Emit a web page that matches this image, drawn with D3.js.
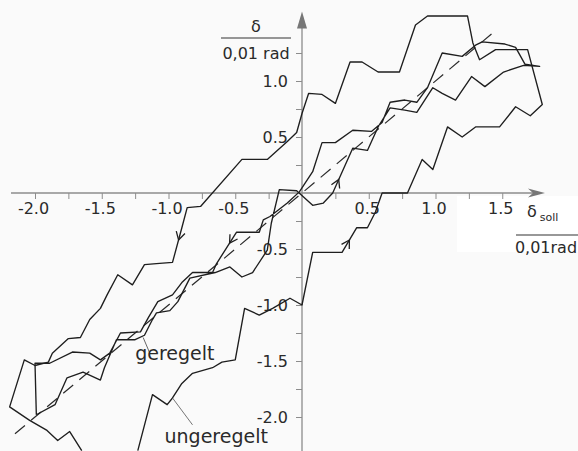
<!DOCTYPE html>
<html>
<head>
<meta charset="utf-8">
<script src="https://cdn.jsdelivr.net/npm/d3@7"></script>
<style>
  body { margin: 0; background: #fafafa; }
  svg { display: block; }
  text { font-family: "DejaVu Sans", sans-serif; fill: #2a2a2a; }
</style>
</head>
<body>
<div id="chart"></div>
<script>
var width = 578, height = 451;

// ungeregelt loop, in travel order: right branch upwards, then left branch downwards
var ungeregeltX = [-1.23, -1.12, -1.01, -0.97, -0.90, -0.82, -0.67, -0.60, -0.50, -0.43, -0.32, -0.22, -0.09, 0.00, 0.08, 0.30, 0.41, 0.49, 0.55, 0.60, 0.79, 0.90, 0.98, 1.09, 1.20, 1.30, 1.48, 1.60, 1.71, 1.80,
                   1.69, 1.45, 1.33, 1.28, 1.24, 0.94, 0.85, 0.73, 0.57, 0.45, 0.36, 0.25, 0.15, 0.05, 0.00, -0.04, -0.11, -0.26, -0.45, -0.76, -0.86, -0.90, -0.97, -1.09, -1.18, -1.27, -1.38, -1.46, -1.51, -1.59, -1.66, -1.75, -1.87, -1.90, -2.00, -2.08, -2.19, -2.04, -1.91, -1.83, -1.74, -1.65];
var ungeregeltY = [-2.30, -1.80, -1.89, -1.83, -1.70, -1.61, -1.56, -1.51, -1.49, -1.03, -1.09, -1.03, -0.94, -1.00, -0.53, -0.53, -0.31, -0.31, -0.17, 0.00, 0.00, 0.30, 0.21, 0.59, 0.50, 0.59, 0.59, 0.77, 0.69, 0.79,
                   1.28, 1.28, 1.19, 1.34, 1.58, 1.58, 1.50, 1.08, 1.08, 1.17, 1.17, 0.80, 0.88, 0.89, 0.71, 0.54, 0.46, 0.30, 0.30, -0.12, -0.13, -0.31, -0.62, -0.63, -0.64, -0.82, -0.73, -0.91, -1.03, -1.13, -1.29, -1.30, -1.43, -1.51, -1.54, -1.49, -1.91, -2.03, -2.12, -2.21, -2.13, -2.30];

// geregelt loop, in travel order: lower branch upwards, then upper branch downwards
var geregeltX = [-1.99, -1.85, -1.76, -1.64, -1.51, -1.48, -1.39, -1.25, -1.18, -1.12, -1.09, -0.99, -0.93, -0.84, -0.65, -0.54, -0.45, -0.37, -0.26, -0.23, -0.17, -0.04, 0.08, 0.16, 0.23, 0.38, 0.49, 0.57, 0.66, 0.77, 0.86, 0.98, 1.05, 1.15, 1.27, 1.37, 1.51, 1.66, 1.78,
                 1.67, 1.60, 1.52, 1.35, 1.30, 1.20, 1.05, 0.94, 0.86, 0.77, 0.66, 0.60, 0.52, 0.38, 0.25, 0.15, 0.08, -0.02, -0.11, -0.24, -0.29, -0.32, -0.49, -0.64, -0.67, -0.82, -0.90, -0.97, -1.08, -1.15, -1.21, -1.36, -1.44, -1.51, -1.59, -1.72, -1.89, -2.00, -1.99];
var geregeltY = [-1.98, -1.89, -1.65, -1.60, -1.67, -1.56, -1.31, -1.31, -1.27, -1.13, -1.07, -1.05, -0.97, -0.76, -0.71, -0.66, -0.75, -0.71, -0.51, -0.27, 0.03, 0.02, -0.11, -0.09, 0.00, 0.40, 0.38, 0.59, 0.76, 0.74, 0.72, 0.94, 0.89, 0.83, 1.04, 0.95, 1.08, 1.14, 1.13,
                 1.15, 1.30, 1.33, 1.35, 1.32, 1.22, 1.25, 0.94, 0.81, 0.83, 0.81, 0.63, 0.55, 0.56, 0.45, 0.45, 0.19, 0.01, -0.09, -0.21, -0.24, -0.35, -0.35, -0.63, -0.71, -0.71, -0.80, -0.91, -0.97, -1.11, -1.24, -1.25, -1.43, -1.49, -1.43, -1.42, -1.52, -1.52, -1.98];

// ideal characteristic delta = delta_soll (dashed)
var idealRange = [-2.15, 1.42];

// direction arrows: [segment start index, position along segment]
var ungeregeltArrows = [[15, 0.5], [51, 0.35]];
var geregeltArrows = [[24, 0.3], [61, 0.35]];

var xTicks = [-2.0, -1.75, -1.5, -1.25, -1.0, -0.75, -0.5, -0.25, 0.25, 0.5, 0.75, 1.0, 1.25, 1.5];
var xLabelValues = [-2.0, -1.5, -1.0, -0.5, 0.5, 1.0, 1.5];
var xLabels = ["-2.0", "-1.5", "-1.0", "-0.5", "0.5", "1.0", "1.5"];
var yTicks = [-2.0, -1.75, -1.5, -1.25, -1.0, -0.75, -0.5, -0.25, 0.25, 0.5, 0.75, 1.0, 1.25];
var yLabelValues = [-2.0, -1.5, -1.0, -0.5, 0.5, 1.0];
var yLabels = ["-2.0", "-1.5", "-1.0", "-0.5", "0.5", "1.0"];

var xAxisExtent = [-2.18, 1.82];
var yAxisExtent = [-2.35, 1.62];

// scales: origin in the middle of the sheet
var x = d3.scaleLinear().domain([0, 1]).range([302, 435.5]);
var y = d3.scaleLinear().domain([0, 1]).range([193, 81]);

var svg = d3.select("#chart").append("svg")
    .attr("width", width)
    .attr("height", height);

// lighter patch behind the x label (scan artefact)
svg.append("rect")
    .attr("x", 457).attr("y", 196)
    .attr("width", width - 457).attr("height", 56)
    .style("fill", "#ffffff");

var axisColor = "#8c8c8c";

// axis lines
svg.append("line")
    .attr("x1", x(xAxisExtent[0])).attr("x2", x(xAxisExtent[1]) - 10)
    .attr("y1", y(0)).attr("y2", y(0))
    .style("stroke", axisColor).style("stroke-width", 1.3);
svg.append("line")
    .attr("x1", x(0)).attr("x2", x(0))
    .attr("y1", y(yAxisExtent[0])).attr("y2", y(yAxisExtent[1]) + 10)
    .style("stroke", axisColor).style("stroke-width", 1.3);

// arrow heads on the axes
var xt = x(xAxisExtent[1]), yt = y(yAxisExtent[1]);
svg.append("path")
    .attr("d", "M" + xt + "," + y(0) + " L" + (xt - 17) + "," + (y(0) - 4.5) + " L" + (xt - 12) + "," + y(0) + " L" + (xt - 17) + "," + (y(0) + 4.5) + " Z")
    .style("fill", "#777");
svg.append("path")
    .attr("d", "M" + x(0) + "," + yt + " L" + (x(0) - 5) + "," + (yt + 17) + " L" + (x(0) + 5) + "," + (yt + 17) + " Z")
    .style("fill", "#777");

// tick marks and labels
var xAxis = d3.axisBottom(x)
    .tickValues(xTicks)
    .tickSize(6)
    .tickPadding(4)
    .tickFormat(function (d) {
        var i = xLabelValues.indexOf(d);
        return i < 0 ? "" : xLabels[i];
    });
var gx = svg.append("g")
    .attr("transform", "translate(0," + y(0) + ")")
    .style("color", axisColor)
    .call(xAxis);
gx.select(".domain").remove();
gx.selectAll("text")
    .attr("dx", -2)
    .style("font-size", "16px")
    .style("fill", "#2a2a2a");

var yAxis = d3.axisLeft(y)
    .tickValues(yTicks)
    .tickSize(6)
    .tickPadding(8)
    .tickFormat(function (d) {
        var i = yLabelValues.indexOf(d);
        return i < 0 ? "" : yLabels[i];
    });
var gy = svg.append("g")
    .attr("transform", "translate(" + x(0) + ",0)")
    .style("color", axisColor)
    .call(yAxis);
gy.select(".domain").remove();
gy.selectAll("text")
    .style("font-size", "16px")
    .style("fill", "#2a2a2a");

// axis titles
svg.append("text")
    .attr("x", 256).attr("y", 32)
    .attr("text-anchor", "middle")
    .style("font-size", "16px")
    .text("δ");
svg.append("line")
    .attr("x1", 221).attr("x2", 291).attr("y1", 38).attr("y2", 38)
    .style("stroke", "#333").style("stroke-width", 1.1);
svg.append("text")
    .attr("x", 256).attr("y", 59)
    .attr("text-anchor", "middle")
    .style("font-size", "16px")
    .text("0,01 rad");

var sollLabel = svg.append("text")
    .attr("x", 527).attr("y", 217)
    .style("font-size", "16px");
sollLabel.append("tspan").text("δ");
sollLabel.append("tspan")
    .attr("dx", 3).attr("dy", 4)
    .style("font-size", "11px")
    .text("soll");
svg.append("line")
    .attr("x1", 516).attr("x2", 578).attr("y1", 235).attr("y2", 235)
    .style("stroke", "#333").style("stroke-width", 1.1);
svg.append("text")
    .attr("x", 546).attr("y", 253)
    .attr("text-anchor", "middle")
    .style("font-size", "16px")
    .text("0,01rad");

// curves
var line = d3.line()
    .x(function (d) { return x(d[0]); })
    .y(function (d) { return y(d[1]); });

var idealPts = [[idealRange[0], idealRange[0]], [idealRange[1], idealRange[1]]];
var ungPts = d3.zip(ungeregeltX, ungeregeltY);
var gerPts = d3.zip(geregeltX, geregeltY);

svg.append("path")
    .attr("d", line(idealPts))
    .style("fill", "none")
    .style("stroke", "#2a2a2a")
    .style("stroke-width", 1.2)
    .style("stroke-dasharray", "13,8");

[ungPts, gerPts].forEach(function (pts) {
    svg.append("path")
        .attr("d", line(pts))
        .style("fill", "none")
        .style("stroke", "#1e1e1e")
        .style("stroke-width", 1.35)
        .style("stroke-linejoin", "round");
});

// travel direction arrows
function drawArrow(pts, spec) {
    var p0 = pts[spec[0]], p1 = pts[spec[0] + 1], t = spec[1];
    var x0 = x(p0[0]), y0 = y(p0[1]), x1 = x(p1[0]), y1 = y(p1[1]);
    var px = x0 + (x1 - x0) * t, py = y0 + (y1 - y0) * t;
    var a = Math.atan2(y1 - y0, x1 - x0), L = 9, w = Math.PI / 6;
    svg.append("path")
        .attr("d", "M" + (px - L * Math.cos(a - w)) + "," + (py - L * Math.sin(a - w)) +
            " L" + px + "," + py +
            " L" + (px - L * Math.cos(a + w)) + "," + (py - L * Math.sin(a + w)))
        .style("fill", "none")
        .style("stroke", "#1e1e1e")
        .style("stroke-width", 1.3);
}
ungeregeltArrows.forEach(function (s) { drawArrow(ungPts, s); });
geregeltArrows.forEach(function (s) { drawArrow(gerPts, s); });

// curve names with leader lines
svg.append("line")
    .attr("x1", x(-1.19)).attr("y1", y(-1.29))
    .attr("x2", x(-1.14)).attr("y2", y(-1.43))
    .style("stroke", "#555").style("stroke-width", 0.9);
svg.append("text")
    .attr("x", x(-1.25)).attr("y", y(-1.49))
    .style("font-size", "19px")
    .text("geregelt");

svg.append("line")
    .attr("x1", x(-0.97)).attr("y1", y(-1.83))
    .attr("x2", x(-0.82)).attr("y2", y(-2.07))
    .style("stroke", "#666").style("stroke-width", 0.9);
svg.append("text")
    .attr("x", x(-1.03)).attr("y", y(-2.23))
    .style("font-size", "19px")
    .text("ungeregelt");
</script>
</body>
</html>
